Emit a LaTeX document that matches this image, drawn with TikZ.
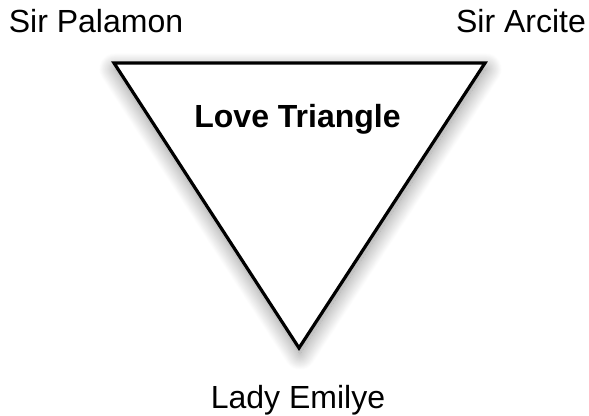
\documentclass[tikz,border=0pt]{standalone}
\usepackage{fontspec}
\setmainfont{Liberation Sans}
\usetikzlibrary{shadows.blur}
\begin{document}
\begin{tikzpicture}[x=1pt,y=-1pt,
  lbl/.style={anchor=base,inner sep=0pt,font=\fontsize{32}{38}\selectfont},
  ttl/.style={anchor=base,inner sep=0pt,font=\fontsize{32}{38}\selectfont\bfseries},
  tri/.style={draw=black,line width=3.2pt,line join=miter,fill=white,
    blur shadow={shadow xshift=1pt,shadow yshift=-6pt,shadow blur radius=16pt,shadow blur steps=24,shadow opacity=45}}]
\useasboundingbox (0,0) rectangle (589,415);
\coordinate (tl) at (114,63);
\coordinate (tr) at (485,63);
\coordinate (bt) at (299,348);
\path[tri] (tl) -- (tr) -- (bt) -- cycle;
\node[lbl] (pal) at (96,32) {Sir Palamon};
\node[lbl] (arc) at (521,32) {Sir Arcite};
\node[ttl] (love) at (297.5,127) {Love Triangle};
\node[lbl] (emi) at (298,408) {Lady Emilye};
\end{tikzpicture}
\end{document}
